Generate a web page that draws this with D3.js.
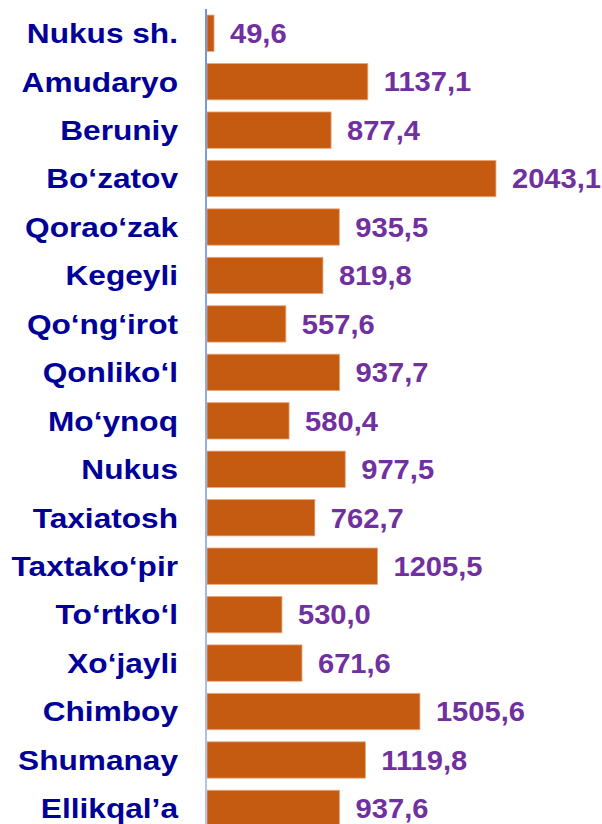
<!DOCTYPE html>
<html>
<head>
<meta charset="utf-8">
<script src="https://cdn.jsdelivr.net/npm/d3@7"></script>
<style>
  html, body { margin: 0; padding: 0; background: #ffffff; }
  svg { display: block; }
</style>
</head>
<body>
<svg id="chart" width="602" height="824"></svg>
<script>
const categories = ["Nukus sh.", "Amudaryo", "Beruniy", "Bo‘zatov", "Qorao‘zak", "Kegeyli", "Qo‘ng‘irot", "Qonliko‘l", "Mo‘ynoq", "Nukus", "Taxiatosh", "Taxtako‘pir", "To‘rtko‘l", "Xo‘jayli", "Chimboy", "Shumanay", "Ellikqal’a"];
const values = [49.6, 1137.1, 877.4, 2043.1, 935.5, 819.8, 557.6, 937.7, 580.4, 977.5, 762.7, 1205.5, 530.0, 671.6, 1505.6, 1119.8, 937.6];
const valueLabels = ["49,6", "1137,1", "877,4", "2043,1", "935,5", "819,8", "557,6", "937,7", "580,4", "977,5", "762,7", "1205,5", "530,0", "671,6", "1505,6", "1119,8", "937,6"];

const data = categories.map((c, i) => ({ cat: c, val: values[i], label: valueLabels[i] }));

const svg = d3.select("#chart");
const x0 = 207;
const x = d3.scaleLinear().domain([0, 2100]).range([x0, x0 + 297]);
const y = d3.scaleBand().domain(categories).range([9, 9 + 17 * 48.45]).paddingInner(0.25).paddingOuter(0.125);

const defs = svg.append("defs");
const grad = defs.append("linearGradient").attr("id", "axisGrad")
  .attr("x1", 0).attr("y1", 0).attr("x2", 0).attr("y2", 1);
grad.append("stop").attr("offset", "0%").attr("stop-color", "#6F96DA");
grad.append("stop").attr("offset", "100%").attr("stop-color", "#B3C7E8");

// bars
svg.append("g").selectAll("rect").data(data).join("rect")
  .attr("x", x(0))
  .attr("y", d => y(d.cat))
  .attr("width", d => x(d.val) - x(0))
  .attr("height", y.bandwidth())
  .attr("fill", "#C55A11")
  .attr("stroke", "#E9A77A")
  .attr("stroke-width", 0.8);

// axis line
svg.append("rect")
  .attr("x", 205).attr("y", 9).attr("width", 2).attr("height", 824 - 9)
  .attr("fill", "url(#axisGrad)");

// category labels (slightly wide glyphs, as in the reference)
const sx = 1.13;
svg.append("g").attr("transform", `scale(${sx},1)`)
  .selectAll("text").data(data).join("text")
  .attr("x", 178 / sx)
  .attr("y", d => y(d.cat) + y.bandwidth() / 2)
  .attr("text-anchor", "end")
  .attr("dominant-baseline", "central")
  .attr("font-family", "Liberation Sans, Arial, sans-serif")
  .attr("font-weight", "bold")
  .attr("font-size", 28)
  .attr("fill", "#000099")
  .text(d => d.cat);

// value labels
const vx = 1.04;
svg.append("g").attr("transform", `scale(${vx},1)`)
  .selectAll("text").data(data).join("text")
  .attr("x", d => (x(d.val) + 16) / vx)
  .attr("y", d => y(d.cat) + y.bandwidth() / 2)
  .attr("text-anchor", "start")
  .attr("dominant-baseline", "central")
  .attr("font-family", "Liberation Sans, Arial, sans-serif")
  .attr("font-weight", "bold")
  .attr("font-size", 28)
  .attr("fill", "#7030A0")
  .text(d => d.label);
</script>
</body>
</html>
